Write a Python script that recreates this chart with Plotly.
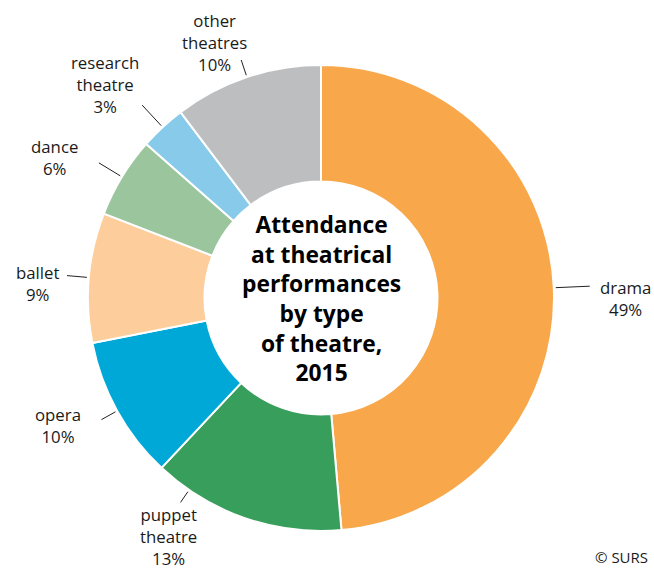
import math
import plotly.graph_objects as go

categories = ["drama", "puppet theatre", "opera", "ballet", "dance", "research theatre", "other theatres"]
label_text = ["drama", "puppet<br>theatre", "opera", "ballet", "dance", "research<br>theatre", "other<br>theatres"]
shares = [48.6, 13.4, 9.9, 9.0, 5.6, 3.2, 10.3]
colors = ["#F9A74B", "#389E5C", "#00A8D8", "#FDCE9B", "#9BC59D", "#88CAEA", "#BDBEC0"]
title_text = "Attendance<br>at theatrical<br>performances<br>by type<br>of theatre,<br>2015"

W, H = 654, 572
CX, CY, R = 321, 298, 233
FONT = "Open Sans"

# label placement (style): text angle/radius, leader-line angle/outer radius
label_style = {
    "drama": dict(ta=90, tr=304, la=None, lr=269),
    "puppet theatre": dict(ta=212.5, tr=283, la=214.5, lr=248),
    "opera": dict(ta=244.2, tr=292, la=None, lr=251),
    "ballet": dict(ta=273, tr=284, la=None, lr=255),
    "dance": dict(ta=297.8, tr=301, la=None, lr=260),
    "research theatre": dict(ta=314.7, tr=304, la=None, lr=263),
    "other theatres": dict(ta=337.5, tr=277, la=None, lr=251),
}

fig = go.Figure(go.Pie(
    labels=categories, values=shares, sort=False, direction="clockwise", rotation=0,
    hole=0.5, marker=dict(colors=colors, line=dict(color="white", width=2)),
    textinfo="none", hoverinfo="label+percent", showlegend=False,
    domain=dict(x=[(CX - R) / W, (CX + R) / W], y=[1 - (CY + R) / H, 1 - (CY - R) / H]),
))

def px_to_paper(x, y):
    return x / W, 1 - y / H

def polar(angle_deg, r):
    a = math.radians(angle_deg)
    return CX + r * math.sin(a), CY - r * math.cos(a)

total = sum(shares)
cum = 0
annotations = []
shapes = []
for cat, txt, v in zip(categories, label_text, shares):
    mid = (cum + v / 2) / total * 360
    cum += v
    st = label_style[cat]
    la = st["la"] if st["la"] is not None else mid
    x0, y0 = polar(la, R + 2)
    x1, y1 = polar(la, st["lr"])
    p0 = px_to_paper(x0, y0)
    p1 = px_to_paper(x1, y1)
    shapes.append(dict(type="line", xref="paper", yref="paper", x0=p0[0], y0=p0[1], x1=p1[0], y1=p1[1],
                       line=dict(color="#222222", width=1)))
    tx, ty = polar(st["ta"], st["tr"])
    pt = px_to_paper(tx, ty)
    pct = round(v / total * 100)
    annotations.append(dict(text=f"{txt}<br>{pct}%", x=pt[0], y=pt[1], xref="paper", yref="paper",
                            xanchor="center", yanchor="middle", showarrow=False, align="center",
                            borderpad=0,
                            font=dict(family=FONT, size=16.8, color="#1a1a1a")))

cp = px_to_paper(CX, CY)
annotations.append(dict(text=f"<b>{title_text}</b>", x=cp[0], y=cp[1], xref="paper", yref="paper",
                        xanchor="center", yanchor="middle", showarrow=False, align="center",
                        font=dict(family=FONT, size=22.8, color="#000000")))
annotations.append(dict(text="© SURS", x=1 - 4 / W, y=0.005, xref="paper", yref="paper",
                        xanchor="right", yanchor="bottom", showarrow=False,
                        font=dict(family=FONT, size=15, color="#1a1a1a")))

fig.update_layout(width=W, height=H, margin=dict(l=0, r=0, t=0, b=0),
                  paper_bgcolor="white", plot_bgcolor="white",
                  annotations=annotations, shapes=shapes)
fig.write_html("out.html", config={"displayModeBar": False},
               post_script="document.body.style.margin='0';document.body.style.overflow='hidden';")
